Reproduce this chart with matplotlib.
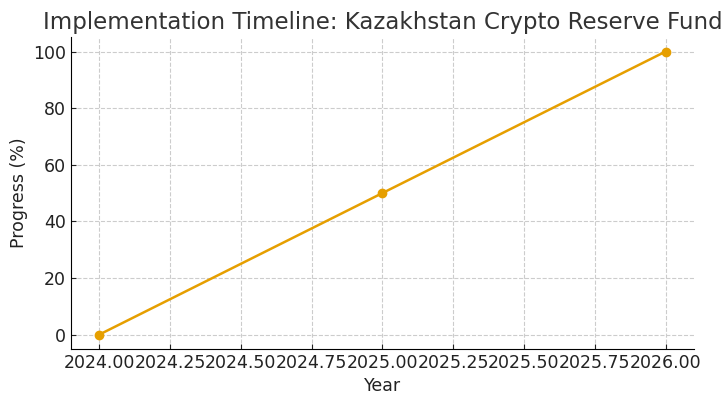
"""
Implementation timeline plot for the Kazakhstan crypto reserve fund.
"""
import matplotlib
matplotlib.use("Agg")
import matplotlib.pyplot as plt

# chart data
years = [2024, 2025, 2026]
progress = [0, 50, 100]

plt.rcParams["font.family"] = "DejaVu Sans"

fig, ax = plt.subplots(figsize=(7.25, 3.94), dpi=100)
fig.subplots_adjust(left=0.098, right=0.957, top=0.905, bottom=0.115)

ax.plot(years, progress, marker="o", color="#E69F00", linewidth=1.8, markersize=6)

ax.set_title("Implementation Timeline: Kazakhstan Crypto Reserve Fund",
             fontsize=16.5, color="#333333")
ax.set_xlabel("Year", fontsize=12.5, color="#222222")
ax.set_ylabel("Progress (%)", fontsize=12.5, color="#222222")

ax.set_xticks([2024 + 0.25 * i for i in range(9)])
ax.set_xticklabels([f"{2024 + 0.25 * i:.2f}" for i in range(9)])
ax.tick_params(direction="in", labelsize=12.5, colors="#222222")
ax.grid(True, linestyle="--", color="#cccccc", linewidth=0.8)

ax.spines["top"].set_visible(False)
ax.spines["right"].set_visible(False)

fig.savefig("out.png", dpi=100)
